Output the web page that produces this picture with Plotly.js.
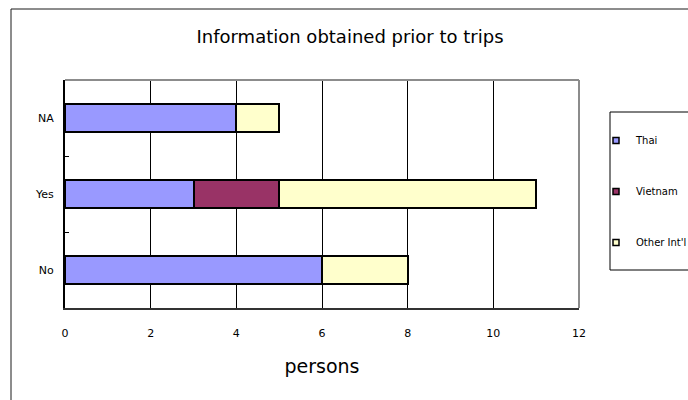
<!DOCTYPE html>
<html>
<head>
<meta charset="utf-8">
<script src="https://cdn.plot.ly/plotly-3.0.1.min.js"></script>
<style>
  html, body { margin: 0; padding: 0; background: #ffffff; overflow: hidden; }
  #chart { width: 688px; height: 400px; }
</style>
</head>
<body>
<div id="chart"></div>
<script>
// Answers, bottom to top on the category axis
const answers = ['No', 'Yes', 'NA'];

// Number of persons per answer, by traveller group
const thai = [6, 3, 4];
const vietnam = [0, 2, 0];
const otherIntl = [2, 6, 1];

const seriesNames = ['Thai', 'Vietnam', "Other Int'l"];
const seriesColors = ['#9999ff', '#993366', '#ffffcc'];
const seriesValues = [thai, vietnam, otherIntl];

const xTicks = [0, 2, 4, 6, 8, 10, 12];

const FONT = 'DejaVu Sans, Arial, sans-serif';

const traces = [];
seriesValues.forEach(function (vals, i) {
  traces.push({
    type: 'bar',
    orientation: 'h',
    name: seriesNames[i],
    y: answers,
    x: vals,
    legendgroup: 'g' + i,
    showlegend: false,
    marker: { color: seriesColors[i], line: { color: '#000000', width: 2 } },
    hoverinfo: 'x+name'
  });
});
// small square legend keys
seriesValues.forEach(function (vals, i) {
  traces.push({
    type: 'scatter',
    mode: 'markers',
    name: seriesNames[i],
    x: [null],
    y: [null],
    legendgroup: 'g' + i,
    showlegend: true,
    marker: { symbol: 'square', size: 6, color: seriesColors[i], line: { color: '#000000', width: 1.5 } },
    hoverinfo: 'skip'
  });
});

const layout = {
  width: 688,
  height: 400,
  margin: { l: 65, r: 109, t: 80, b: 92, pad: 0, autoexpand: false },
  paper_bgcolor: '#ffffff',
  plot_bgcolor: '#ffffff',
  font: { family: FONT, color: '#000000', size: 11 },
  barmode: 'stack',
  bargap: 0.62,
  title: {
    text: 'Information obtained prior to trips',
    font: { family: FONT, size: 18, color: '#000000' },
    x: 350 / 688, xref: 'container', xanchor: 'center',
    y: 1 - 37 / 400, yref: 'container', yanchor: 'middle'
  },
  xaxis: {
    range: [0, 12],
    tickvals: xTicks,
    ticktext: xTicks.map(String),
    showgrid: true,
    gridcolor: '#000000',
    gridwidth: 1,
    zeroline: false,
    showline: true,
    linecolor: '#333333',
    linewidth: 2,
    ticks: '',
    ticklabelstandoff: 14,
    tickfont: { family: FONT, size: 11, color: '#000000' },
    title: { text: 'persons', font: { family: FONT, size: 19, color: '#000000' }, standoff: 20 },
    automargin: false,
    fixedrange: true
  },
  yaxis: {
    type: 'category',
    categoryorder: 'array',
    categoryarray: answers,
    range: [-0.5, answers.length - 0.5],
    showgrid: false,
    zeroline: false,
    showline: true,
    linecolor: '#000000',
    linewidth: 2,
    ticks: 'inside',
    tickson: 'boundaries',
    ticklen: 4,
    tickcolor: '#000000',
    tickwidth: 1,
    ticklabelstandoff: 7,
    tickfont: { family: FONT, size: 11, color: '#000000' },
    automargin: false,
    fixedrange: true
  },
  showlegend: true,
  legend: {
    x: (609 - 65) / 514,
    xanchor: 'left',
    y: (308 - 126) / 228,
    yanchor: 'top',
    traceorder: 'grouped',
    tracegroupgap: 32,
    indentation: -13,
    bgcolor: 'rgba(0,0,0,0)',
    borderwidth: 0,
    font: { family: FONT, size: 10, color: '#000000' }
  },
  shapes: [
    // outer chart frame
    { type: 'rect', xref: 'paper', yref: 'paper',
      x0: (11 - 65) / 514, x1: 1.4, y0: -0.6, y1: (308 - 9) / 228,
      line: { color: '#1a1a1a', width: 1 }, fillcolor: 'rgba(0,0,0,0)', layer: 'below' },
    // plot area top and right edges
    { type: 'line', xref: 'paper', yref: 'paper', x0: 0, x1: 1, y0: 1, y1: 1,
      line: { color: '#8c8c8c', width: 2 } },
    { type: 'line', xref: 'paper', yref: 'paper', x0: 1, x1: 1, y0: 0, y1: 1,
      line: { color: '#8c8c8c', width: 2 } },
    // legend frame
    { type: 'rect', xref: 'paper', yref: 'paper',
      x0: (610 - 65) / 514, x1: 1.4, y0: (308 - 270) / 228, y1: (308 - 112) / 228,
      line: { color: '#000000', width: 1 }, fillcolor: 'rgba(0,0,0,0)' }
  ]
};

Plotly.newPlot('chart', traces, layout, { displayModeBar: false, staticPlot: true });
</script>
</body>
</html>
